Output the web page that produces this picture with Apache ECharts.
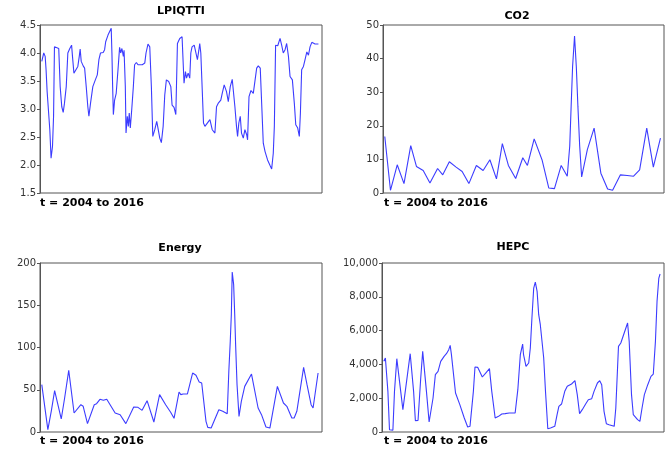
<!DOCTYPE html>
<html>
<head>
<meta charset="utf-8">
<script src="https://cdn.jsdelivr.net/npm/echarts@6/dist/echarts.min.js"></script>
<style>
  html, body { margin: 0; padding: 0; background: #fff; }
  #main { width: 667px; height: 449px; }
</style>
</head>
<body>
<div id="main"></div>
<script>
// month index (0 = Jan 2004 ... 155 = Dec 2016) and value
var lpiT = [0,1.1,1.9,2.4,3.0,3.7,4.5,5.2,6.0,6.6,7.1,8.0,9.5,10.3,11.2,12.0,12.7,13.7,14.6,15.7,16.7,17.2,18.0,18.9,20.2,21.0,21.5,22.1,23.2,24.0,24.9,25.8,26.4,27.3,28.6,30.0,31.1,32.0,32.9,34.4,35.2,35.8,37.1,38.9,39.3,39.7,40.1,40.8,41.7,42.7,43.6,44.2,44.9,45.7,46.1,46.8,47.2,47.9,48.5,49.0,49.6,50.4,51.3,52.0,53.0,53.9,55.0,56.3,57.7,58.4,59.5,60.5,61.4,62.2,63.3,64.4,65.1,66.1,67.0,68.0,68.9,69.8,71.1,72.3,73.0,74.1,75.1,76.0,77.3,78.6,
  79.7,80.5,81.1,82.0,82.9,83.5,84.2,85.4,86.3,87.2,88.0,88.5,89.1,89.9,90.6,91.4,92.5,94.2,95.5,97.0,97.9,98.8,100.3,101.1,102.2,103.5,104.5,105.6,106.7,107.8,108.2,109.1,109.7,110.4,111.2,111.9,112.9,113.8,114.8,115.3,116.1,117.2,118.5,119.4,120.4,121.3,122.4,123.2,124.1,125.1,126.5,127.9,128.8,129.7,130.3,131.0,132.2,133.5,134.4,135.3,136.3,137.2,138.2,139.1,140.4,141.5,142.3,143.4,144.3,144.9,145.6,146.6,147.5,148.5,149.4,150.3,151.3,152.2,153.1,155];
var lpiV = [3.85,4.0,3.94,3.7,3.31,2.99,2.63,2.12,2.33,2.87,4.11,4.1,4.08,3.4,3.04,2.94,3.1,3.4,4.0,4.08,4.14,3.94,3.64,3.67,3.76,3.94,4.07,3.85,3.77,3.73,3.4,3.04,2.87,3.1,3.4,3.52,3.61,3.88,4.0,4.01,4.06,4.2,4.32,4.44,4.0,3.4,2.9,3.16,3.28,3.7,4.1,4.0,4.08,3.94,4.05,3.4,2.57,2.87,2.69,2.93,2.66,2.99,3.4,3.79,3.83,3.79,3.76,3.79,3.82,4.0,4.16,4.11,3.4,2.51,2.63,2.78,2.66,2.48,2.4,2.69,3.25,3.52,3.49,3.4,3.07,3.03,2.9,4.17,4.26,4.29,
  3.46,3.67,3.55,3.64,3.55,4.0,4.11,4.14,4.11,3.88,4.05,4.17,4.0,3.34,2.75,2.69,2.69,2.81,2.63,2.57,3.04,3.1,3.16,3.28,3.43,3.31,3.13,3.4,3.53,3.55,3.04,2.69,2.51,2.75,2.87,2.57,2.48,2.63,2.54,2.45,3.22,3.33,3.28,3.25,3.73,3.77,3.73,3.1,2.39,2.24,2.09,1.99,1.93,2.21,2.69,4.14,4.13,4.26,4.14,4.0,4.06,4.17,3.94,3.58,3.52,3.1,2.72,2.66,2.51,2.93,3.7,3.76,3.88,4.02,3.96,4.11,4.19,4.17,4.16,4.16];

var co2T = [0,3.2,7.0,10.8,14.6,17.8,21.6,25.4,29.7,32.6,36.3,40.1,43.5,47.3,51.5,55.3,59.1,62.8,66.1,69.5,73.6,77.6,80.2,84.0,88.4,92.2,95.4,99.2,102.6,104.0,104.8,105.6,106.7,107.7,108.6,109.6,110.7,113.9,117.7,121.5,125.3,128.1,132.5,136.3,139.9,143.3,147.3,151.0,155];
var co2V = [16.8,0.8,8.4,2.8,14.1,7.9,6.7,3.0,7.3,5.4,9.3,7.7,6.4,2.8,8.2,6.7,9.9,4.2,14.7,8.2,4.3,10.5,8.2,16.1,9.9,1.5,1.3,8.2,5.0,14,26,37.6,46.7,37.6,25.7,13.9,4.8,12.9,19.3,5.9,1.2,0.8,5.4,5.2,5.0,6.9,19.3,7.7,16.3];

var energyT = [0,1.1,3.4,5.3,7.2,8.1,10.9,12.8,15.1,16.0,18.1,21.9,23.2,25.6,29.4,30.7,32.6,34.5,36.4,41.1,43.9,47.1,51.5,53.9,56.2,59.0,62.8,66.0,69.4,72.2,74.1,76.9,77.9,79.2,81.6,84.5,86.4,88.2,89.6,92.0,93.0,94.9,99.2,101.4,103.9,104.8,105.6,106.2,106.7,107.5,108.1,108.6,109.4,110.5,111.8,113.7,117.5,121.2,123.1,125.6,127.8,132.0,135.4,137.3,140.1,141.4,142.9,146.7,148.6,150.9,152.0,154.8];
var energyV = [56.0,55.2,2.8,24.5,48.9,48.1,15.4,40.2,73.0,71.8,22.5,32.3,30.4,9.9,32.3,33.5,38.7,37.5,38.7,22.5,20.5,9.9,29.6,29.2,25.6,37.1,11.8,44.2,32.3,23.3,16.2,47.3,44.2,45.0,45.0,69.8,67.1,59.2,58.0,12.6,5.5,4.7,26.4,24.5,21.7,71.8,107.3,138.9,189.4,174.4,138.9,103.4,56.0,18.5,36.3,54.0,68.6,28.4,20.5,5.9,4.7,54.0,34.3,30.4,16.6,16.6,24.5,76.5,56.0,32.3,28.4,69.8];

var hepcT = [0,0.9,2.3,3.2,5.1,6.0,7.3,8.3,10.7,11.6,13.5,14.8,15.8,16.7,17.7,19.2,20.7,21.8,22.7,23.9,25.4,26.3,27.6,28.9,30.4,31.9,33.8,35.1,36.4,37.2,37.9,40.2,42.6,45.1,47.0,48.3,50.2,51.1,52.6,55.2,57.1,59.2,60.5,62.4,64.3,66.1,68.0,68.9,70.3,73.6,75.1,76.5,77.8,
  78.3,79.7,81.2,82.1,83.0,84.0,84.9,85.9,86.8,87.7,88.7,89.6,90.6,91.9,93.4,95.8,97.1,98.1,99.6,101.4,102.8,105.2,107.1,108.4,109.7,111.2,113.1,114.6,116.5,117.8,119.7,121.0,122.1,123.4,124.7,126.2,129.1,130.0,131.5,132.8,134.7,136.6,137.5,138.8,139.8,140.7,142.2,143.5,144.7,146.0,147.9,149.7,151.0,152.2,153.1,154.1,154.8];
var hepcV = [4181,4378,2406,138,99,2406,4338,4417,1321,1420,3589,4634,4674,2406,670,690,3195,4772,4772,2406,592,631,2011,3392,3589,4181,4477,4634,4871,5127,4575,2307,1617,828,296,335,2406,3845,3826,3254,3490,3747,2406,828,927,1065,1085,986,1124,1124,2505,4575,5206,
  4575,3885,4082,4969,6744,8519,8874,8322,6941,6350,6251,4378,2406,197,237,335,1025,1518,1656,2406,2702,2840,3037,2209,1085,1321,1656,1913,1972,2406,2899,3037,2800,1222,493,434,335,1420,5068,5265,5857,6448,5364,2209,1025,1065,730,631,1420,2209,2800,3293,3431,5364,7730,9110,9347];

var titles = ['LPIQTTI', 'CO2', 'Energy', 'HEPC'];
var sampleLabel = 't = 2004 to 2016';
// y axis min, max, step for each panel
var yScales = [[1.5, 4.5, 0.5], [0, 50, 10], [0, 200, 50], [0, 10000, 2000]];

var chart = echarts.init(document.getElementById('main'));

function zip(t, v) {
    var out = [];
    for (var i = 0; i < t.length; i++) out.push([t[i], v[i]]);
    return out;
}

var series = [zip(lpiT, lpiV), zip(co2T, co2V), zip(energyT, energyV), zip(hepcT, hepcV)];
var boxes = [
    {left: 40, top: 25, width: 282, height: 168},
    {left: 383, top: 25, width: 281, height: 168},
    {left: 40, top: 263, width: 282, height: 169},
    {left: 382, top: 263, width: 282, height: 169}
];
var titlePos = [[181, 11], [517, 16], [180, 248], [513, 247]];
var notePos = [[40, 203], [384, 203], [40, 441], [384, 441]];
var font = '"DejaVu Sans", Verdana, sans-serif';

var grids = [], xAxes = [], yAxes = [], lines = [], graphics = [];
for (var k = 0; k < 4; k++) {
    grids.push(Object.assign({show: true, borderColor: '#555', borderWidth: 1, backgroundColor: '#fff'}, boxes[k]));
    xAxes.push({
        type: 'value', gridIndex: k, min: -1, max: 157,
        axisLine: {show: false}, axisTick: {show: false}, axisLabel: {show: false}, splitLine: {show: false}
    });
    yAxes.push({
        type: 'value', gridIndex: k,
        min: yScales[k][0], max: yScales[k][1], interval: yScales[k][2],
        axisLine: {show: true, onZero: false, lineStyle: {color: '#555'}},
        axisTick: {show: true, length: 3, lineStyle: {color: '#555'}},
        splitLine: {show: false},
        axisLabel: {
            fontSize: 10, color: '#333', fontFamily: font, margin: 4,
            formatter: k === 0 ? function (v) { return v.toFixed(1); }
                     : k === 3 ? function (v) { return v.toLocaleString('en-US'); }
                     : null
        }
    });
    lines.push({
        type: 'line', xAxisIndex: k, yAxisIndex: k, data: series[k],
        showSymbol: false, smooth: false, animation: false,
        lineStyle: {color: '#3c3cff', width: 1.1}
    });
    graphics.push({
        type: 'text', x: titlePos[k][0], y: titlePos[k][1],
        style: {text: titles[k], font: 'bold 11px ' + font, fill: '#000', textAlign: 'center', textVerticalAlign: 'middle'}
    });
    graphics.push({
        type: 'text', x: notePos[k][0], y: notePos[k][1],
        style: {text: sampleLabel, font: 'bold 11px ' + font, fill: '#000', textAlign: 'left', textVerticalAlign: 'middle'}
    });
}

chart.setOption({
    animation: false,
    grid: grids,
    xAxis: xAxes,
    yAxis: yAxes,
    series: lines,
    graphic: graphics
});
</script>
</body>
</html>
